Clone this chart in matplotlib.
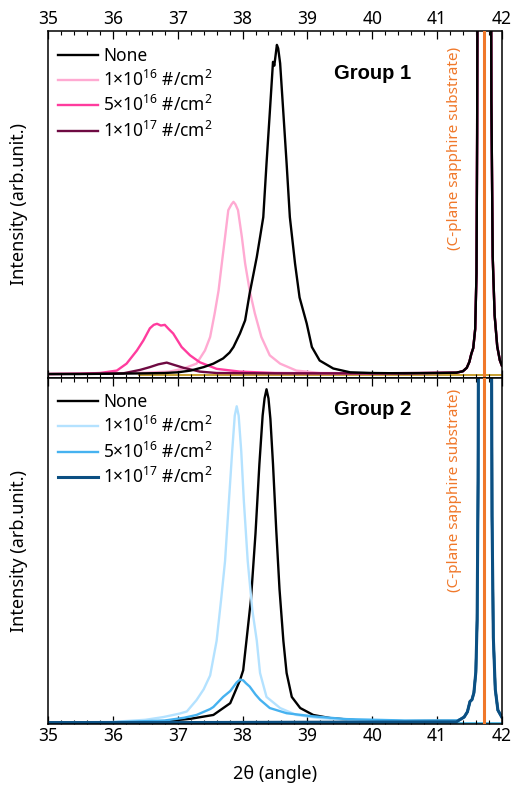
import matplotlib
matplotlib.use("Agg")
import matplotlib.pyplot as plt
from matplotlib.ticker import MultipleLocator
import matplotlib.transforms as mtransforms

FONT = 'Noto Sans'
plt.rcParams['font.family'] = [FONT, 'DejaVu Sans']
plt.rcParams['mathtext.fontset'] = 'custom'
plt.rcParams['mathtext.rm'] = FONT
plt.rcParams['mathtext.it'] = FONT
plt.rcParams['mathtext.bf'] = FONT

# ---------------- data (normalised intensity) -------------
labels = ['None', '1×10$^{\\mathrm{16}}$ #/cm$^{\\mathrm{2}}$',
          '5×10$^{\\mathrm{16}}$ #/cm$^{\\mathrm{2}}$',
          '1×10$^{\\mathrm{17}}$ #/cm$^{\\mathrm{2}}$']

# sapphire substrate peak (off-scale), group 1 and group 2
sap1_x = [41.40, 41.46, 41.50, 41.53, 41.56, 41.59, 41.61, 41.62, 41.63, 41.70, 41.80, 41.83, 41.84, 41.86, 41.89, 41.93, 41.97, 42.00]
sap1_y = [0.018, 0.028, 0.045, 0.068, 0.085, 0.14, 0.30, 0.70, 1.50, 3.0, 3.0, 1.50, 0.80, 0.35, 0.18, 0.09, 0.05, 0.035]
sap2_x = [41.35, 41.42, 41.47, 41.51, 41.54, 41.57, 41.60, 41.62, 41.635, 41.645, 41.75, 41.835, 41.85, 41.87, 41.90, 41.94, 42.00]
sap2_y = [0.012, 0.020, 0.035, 0.065, 0.070, 0.090, 0.15, 0.30, 0.70, 1.50, 3.0, 1.50, 0.60, 0.25, 0.10, 0.04, 0.02]

# Group 1
g1_none_x = [35.0, 35.5, 36.0, 36.5, 36.8, 37.0, 37.2, 37.4, 37.55, 37.7, 37.8, 37.86, 37.96, 38.04, 38.11, 38.17, 38.22, 38.27, 38.32, 38.37, 38.42, 38.47, 38.49, 38.51, 38.53, 38.55, 38.58, 38.63, 38.68, 38.73, 38.81, 38.88, 38.99, 39.07, 39.19, 39.40, 39.66, 40.0, 40.5, 41.0, 41.3]
g1_none_y = [0.010, 0.010, 0.011, 0.012, 0.013, 0.015, 0.020, 0.030, 0.040, 0.055, 0.072, 0.088, 0.127, 0.165, 0.243, 0.300, 0.348, 0.405, 0.463, 0.618, 0.763, 0.911, 0.900, 0.930, 0.960, 0.950, 0.907, 0.763, 0.618, 0.463, 0.329, 0.231, 0.156, 0.088, 0.049, 0.026, 0.015, 0.013, 0.012, 0.013, 0.014]
g1_1e16_x = [35.0, 36.0, 36.5, 36.87, 37.09, 37.29, 37.42, 37.50, 37.57, 37.63, 37.68, 37.73, 37.78, 37.83, 37.86, 37.89, 37.93, 37.99, 38.04, 38.11, 38.19, 38.29, 38.42, 38.58, 38.83, 39.2, 40.0, 41.0, 41.3]
g1_1e16_y = [0.010, 0.012, 0.014, 0.017, 0.026, 0.040, 0.078, 0.117, 0.185, 0.251, 0.329, 0.405, 0.483, 0.500, 0.507, 0.500, 0.483, 0.405, 0.329, 0.251, 0.185, 0.117, 0.064, 0.040, 0.020, 0.013, 0.012, 0.013, 0.014]
g1_5e16_x = [35.0, 35.5, 35.8, 36.06, 36.21, 36.37, 36.47, 36.57, 36.63, 36.68, 36.74, 36.80, 36.86, 36.93, 37.06, 37.19, 37.34, 37.60, 37.96, 38.5, 39.5, 40.5, 41.3]
g1_5e16_y = [0.010, 0.011, 0.013, 0.020, 0.040, 0.078, 0.107, 0.142, 0.152, 0.155, 0.150, 0.152, 0.140, 0.127, 0.088, 0.064, 0.044, 0.025, 0.017, 0.013, 0.012, 0.012, 0.014]
g1_1e17_x = [35.0, 35.8, 36.16, 36.42, 36.57, 36.70, 36.83, 36.95, 37.09, 37.34, 37.6, 38.5, 40.0, 41.3]
g1_1e17_y = [0.010, 0.011, 0.012, 0.022, 0.030, 0.038, 0.043, 0.036, 0.028, 0.017, 0.013, 0.012, 0.012, 0.014]
g1_ref_x = [36.4, 42.0]
g1_ref_y = [0.006, 0.006]

# Group 2
g2_none_x = [35.0, 36.0, 36.8, 37.2, 37.55, 37.81, 37.96, 38.01, 38.06, 38.13, 38.20, 38.26, 38.31, 38.34, 38.37, 38.40, 38.43, 38.47, 38.52, 38.57, 38.63, 38.68, 38.76, 38.89, 39.09, 39.35, 39.8, 40.5, 41.3]
g2_none_y = [0.004, 0.005, 0.008, 0.015, 0.026, 0.060, 0.126, 0.155, 0.240, 0.360, 0.550, 0.750, 0.890, 0.940, 0.966, 0.940, 0.880, 0.750, 0.560, 0.390, 0.240, 0.147, 0.078, 0.046, 0.026, 0.017, 0.010, 0.008, 0.010]
g2_1e16_x = [35.0, 36.0, 36.5, 36.78, 37.03, 37.14, 37.29, 37.40, 37.50, 37.60, 37.67, 37.73, 37.79, 37.84, 37.88, 37.91, 37.94, 37.98, 38.02, 38.08, 38.15, 38.22, 38.27, 38.37, 38.58, 38.83, 39.19, 39.8, 40.5, 41.3]
g2_1e16_y = [0.004, 0.006, 0.012, 0.020, 0.030, 0.036, 0.069, 0.100, 0.140, 0.240, 0.360, 0.470, 0.644, 0.787, 0.890, 0.917, 0.890, 0.787, 0.644, 0.470, 0.330, 0.240, 0.147, 0.078, 0.046, 0.026, 0.017, 0.010, 0.008, 0.010]
g2_5e16_x = [35.0, 36.0, 36.8, 37.1, 37.29, 37.50, 37.55, 37.70, 37.81, 37.91, 37.96, 38.01, 38.05, 38.11, 38.20, 38.27, 38.42, 38.68, 39.09, 39.6, 40.5, 41.3]
g2_5e16_y = [0.004, 0.005, 0.010, 0.018, 0.026, 0.043, 0.049, 0.078, 0.095, 0.120, 0.128, 0.126, 0.118, 0.108, 0.085, 0.070, 0.046, 0.031, 0.022, 0.014, 0.010, 0.010]
g2_1e17_x = [35.0, 37.0, 39.0, 41.3]
g2_1e17_y = [0.004, 0.004, 0.005, 0.006]
g2_ref_x = [35.0, 42.0]
g2_ref_y = [0.002, 0.002]

sapphire_pos = 41.72
xticks = [35, 36, 37, 38, 39, 40, 41, 42]

colors1 = ['#000000', '#ffaad2', '#ff3c9e', '#6e0a42']
colors2 = ['#000000', '#b4e2ff', '#46b2f0', '#0b4f82']
orange = '#f0782a'

# ---------------- figure -------------
fig, (ax1, ax2) = plt.subplots(2, 1, figsize=(5.12, 7.96), dpi=100, sharex=True)
fig.subplots_adjust(left=0.094, right=0.980, top=0.961, bottom=0.0905, hspace=0)

series1 = [(g1_none_x, g1_none_y), (g1_1e16_x, g1_1e16_y), (g1_5e16_x, g1_5e16_y), (g1_1e17_x, g1_1e17_y)]
series2 = [(g2_none_x, g2_none_y), (g2_1e16_x, g2_1e16_y), (g2_5e16_x, g2_5e16_y), (g2_1e17_x, g2_1e17_y)]

ax1.plot(g1_ref_x, g1_ref_y, color='#c8a032', lw=1.4, zorder=1)
for i, ((xs, ys), c, lab) in enumerate(zip(series1, colors1, labels)):
    ax1.plot(xs + sap1_x, ys + sap1_y, color=c, lw=1.7, label=lab, zorder=2 + i * 0.1 if i else 2.5)
ax2.plot(g2_ref_x, g2_ref_y, color='#5bc0ea', lw=1.4, zorder=1)
for i, ((xs, ys), c, lab) in enumerate(zip(series2, colors2, labels)):
    ax2.plot(xs + sap2_x, ys + sap2_y, color=c, lw=1.7 if i < 3 else 2.2, label=lab, zorder=2 + i * 0.1)

for ax in (ax1, ax2):
    ax.axvline(sapphire_pos, color=orange, lw=2.2, zorder=5)
    ax.set_xlim(35, 42)
    ax.set_ylim(0, 1)
    ax.set_yticks([])
    ax.set_xticks(xticks)
    ax.xaxis.set_minor_locator(MultipleLocator(0.2))
    ax.tick_params(axis='x', which='major', direction='in', length=5.5, width=0.9,
                   top=True, bottom=True, labelsize=12.5, pad=2)
    ax.tick_params(axis='x', which='minor', direction='in', length=3, width=0.8,
                   top=True, bottom=True)
    for s in ax.spines.values():
        s.set_linewidth(1.1)
    ax.set_ylabel('Intensity (arb.unit.)', fontsize=13)
    ax.yaxis.set_label_coords(-0.044, 0.5)

ax1.tick_params(axis='x', which='both', labeltop=True, labelbottom=False)
ax2.tick_params(axis='x', which='both', labeltop=False, labelbottom=True)
ax2.set_xlabel('2θ (angle)', fontsize=13)
ax2.xaxis.set_label_coords(0.5, -0.118)

tr1 = mtransforms.blended_transform_factory(ax1.transData, ax1.transAxes)
tr2 = mtransforms.blended_transform_factory(ax2.transData, ax2.transAxes)
ax1.text(41.27, 0.955, '(C-plane sapphire substrate)', rotation=90, color=orange,
         ha='center', va='top', fontsize=11, transform=tr1)
ax2.text(41.27, 0.968, '(C-plane sapphire substrate)', rotation=90, color=orange,
         ha='center', va='top', fontsize=11, transform=tr2)
bold_fam = ['Liberation Sans', 'DejaVu Sans']
ax1.text(40.0, 0.878, 'Group 1', fontweight='bold', family=bold_fam, fontsize=14.5,
         ha='center', va='center', transform=tr1)
ax2.text(40.0, 0.908, 'Group 2', fontweight='bold', family=bold_fam, fontsize=14.5,
         ha='center', va='center', transform=tr2)

for ax in (ax1, ax2):
    ax.legend(loc='upper left', frameon=False, fontsize=12.5, handlelength=2.3,
              handletextpad=0.3, labelspacing=0.3, borderaxespad=0.3,
              bbox_to_anchor=(-0.005, 0.99))

fig.savefig('out.png', dpi=100)
